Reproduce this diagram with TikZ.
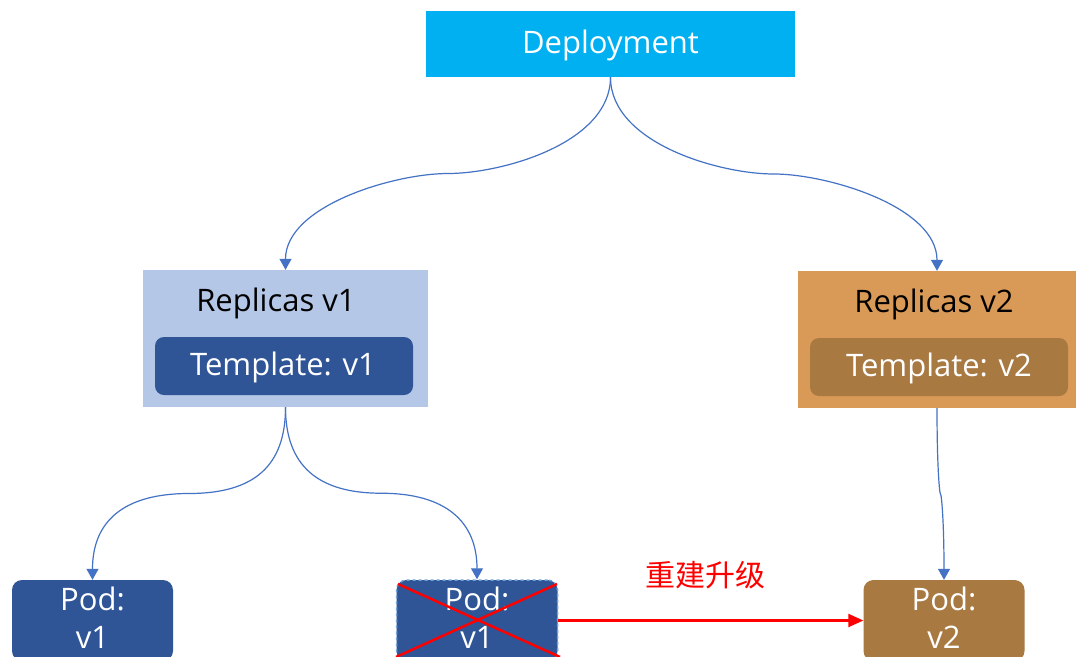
\documentclass[tikz,border=0pt]{standalone}
\usepackage{fontspec}
\setmainfont{Open Sans}
\newfontfamily\cjk{Noto Sans CJK SC}
\usetikzlibrary{arrows.meta,calc}
\definecolor{depblue}{HTML}{00B0F0}
\definecolor{rsblue}{HTML}{B4C7E7}
\definecolor{darkblue}{HTML}{2F5597}
\definecolor{rsorange}{HTML}{DA9A57}
\definecolor{darkbrown}{HTML}{A97942}
\definecolor{linkblue}{HTML}{4472C4}
\definecolor{dashblue}{HTML}{6FA3DA}
\tikzset{
  txt/.style={font=\fontsize{31}{38}\selectfont},
  box/.style={rectangle, draw=none, inner sep=0pt, txt},
  podbox/.style={box, rounded corners=10pt, minimum width=161pt, minimum height=81pt,
                 text=white, align=center},
  tplbox/.style={box, rounded corners=9pt, minimum width=258pt, minimum height=58pt, text=white},
  conn/.style={draw=linkblue, line width=1.2pt, -{Triangle[length=11pt,width=12pt]}},
  redx/.style={draw=red, line width=2.5pt},
}
\begin{document}
\begin{tikzpicture}[x=1pt,y=-1pt]
\clip (0,0) rectangle (1076,656);
\fill[white] (0,0) rectangle (1076,656);

% deployment
\node[box, fill=depblue, text=white, minimum width=369pt, minimum height=66pt] (dep) at (610.5,44) {};
\node[txt, text=white] (dept) at (610.5,45) {Deployment};

% replica sets
\node[box, fill=rsblue, minimum width=285pt, minimum height=137pt] (rs1) at (285.5,338.5) {};
\node[txt] (rs1t) at (276,303) {Replicas v1};
\node[tplbox, fill=darkblue] (tpl1) at (284,366) {};
\node[txt, text=white] (tpl1t) at (283,367) {Template: v1};

\node[box, fill=rsorange, minimum width=278pt, minimum height=137pt] (rs2) at (937,339.5) {};
\node[txt] (rs2t) at (934,304) {Replicas v2};
\node[tplbox, fill=darkbrown] (tpl2) at (939,367) {};
\node[txt, text=white] (tpl2t) at (939,368) {Template: v2};

% pods
\node[podbox, fill=darkblue] (pod1) at (92.5,620.5) {};
\node[podbox, fill=darkblue, draw=dashblue, dashed, line width=1.5pt] (pod2) at (477,620.5) {};
\node[podbox, fill=darkbrown] (pod3) at (944,620.5) {};
\node[txt, text=white, align=center] (pod1t) at (92.5,618) {Pod:\\v1};
\node[txt, text=white, align=center] (pod2t) at (477,618) {Pod:\\v1};
\node[txt, text=white, align=center] (pod3t) at (944,618) {Pod:\\v2};

% removed pod
\coordinate (xa) at (398,584);
\coordinate (xb) at (560,657);
\coordinate (xc) at (557,584);
\coordinate (xd) at (396,657);
\draw[redx] (xa) -- (xb);
\draw[redx] (xc) -- (xd);

% connectors
\coordinate (m1) at ($(dep.south)!0.5!(rs1.north)$);
\coordinate (m2) at ($(dep.south)!0.5!(rs2.north)$);
\draw[conn] (dep.south) .. controls +(0,66) and +(54,0) .. (m1)
                        .. controls +(-54,0) and +(0,-64) .. (rs1.north);
\draw[conn] (dep.south) .. controls +(0,66) and +(-54,0) .. (m2)
                        .. controls +(54,0) and +(0,-64) .. (rs2.north);

\coordinate (m3) at ($(rs1.south)!0.5!(pod1.north)$);
\coordinate (m4) at ($(rs1.south)!0.5!(pod2.north)$);
\draw[conn] (rs1.south) .. controls +(0,58) and +(66,0) .. (m3)
                        .. controls +(-66,0) and +(0,-58) .. (pod1.north);
\draw[conn] (rs1.south) .. controls +(0,58) and +(-64,0) .. (m4)
                        .. controls +(64,0) and +(0,-58) .. (pod2.north);

\coordinate (m5) at ($(rs2.south)!0.5!(pod3.north)$);
\draw[conn] (rs2.south) .. controls +(0,58) and +(-1,0) .. (m5)
                        .. controls +(1,0) and +(0,-58) .. (pod3.north);

% rebuild upgrade
\draw[draw=red, line width=2.2pt, -{Triangle[length=15pt,width=13pt]}] (pod2.east) -- (pod3.west);
\node[text=red, font=\cjk\fontsize{30}{34}\selectfont] (lbl) at (705,575) {重建升级};
\end{tikzpicture}
\end{document}
